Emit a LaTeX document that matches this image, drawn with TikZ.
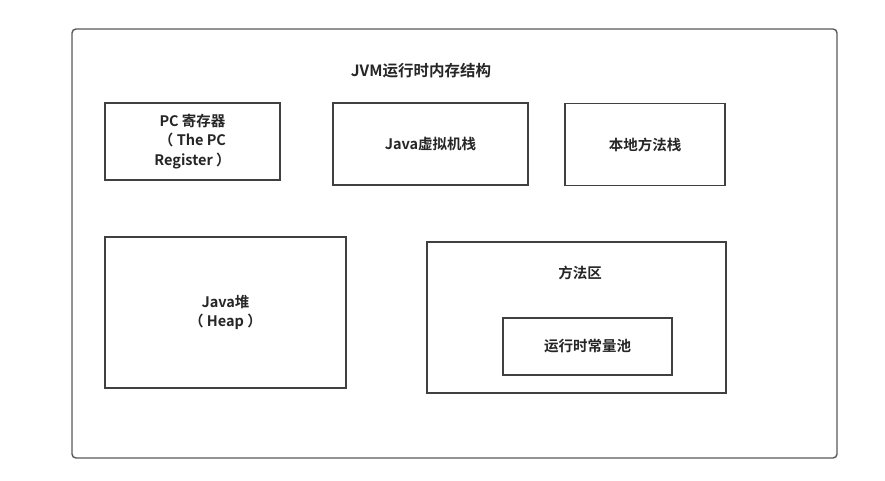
\documentclass[tikz,border=0pt]{standalone}
\usepackage{fontspec}
\newfontfamily\cjk{Noto Sans CJK SC}[BoldFont={Noto Sans CJK SC Bold}]
\usetikzlibrary{positioning}

\begin{document}
\begin{tikzpicture}[x=1pt,y=-1pt,
	every node/.style={font=\cjk\bfseries\fontsize{14.5}{19.5}\selectfont,text=black!85,align=center,inner sep=0pt},
	area/.style={draw=black!75,line width=1.4pt,fill=white}]
	\useasboundingbox (0,0) rectangle (885,481);
	
	%outer frame: the whole runtime memory
	\node[area,rounded corners=4pt,draw=black!65,minimum width=765pt,minimum height=429pt] (jvm) at (454.5,243.5) {};
	\node[font=\cjk\bfseries\fontsize{15.5}{19}\selectfont] (title) at (421,71) {JVM运行时内存结构};
	
	%first row: per-thread areas
	\node[area,minimum width=175pt,minimum height=77pt] (pc) at (192.5,141.5) {PC 寄存器\\（ The PC\\Register ）};
	\node[area,minimum width=195pt,minimum height=82pt] (stack) at (430.5,144) {Java虚拟机栈};
	\node[area,minimum width=160pt,minimum height=82pt] (native) at (645,144.5) {本地方法栈};
	
	%second row: shared areas
	\node[area,minimum width=241pt,minimum height=151pt] (heap) at (225.5,312.5) {Java堆\\（ Heap ）};
	\node[area,minimum width=299pt,minimum height=151pt] (method) at (576.5,317.5) {};
	\node (methodlabel) at (580,273) {方法区};
	\node[area,minimum width=169pt,minimum height=57pt] (pool) at (587.5,346.5) {运行时常量池};
	
\end{tikzpicture}
\end{document}
